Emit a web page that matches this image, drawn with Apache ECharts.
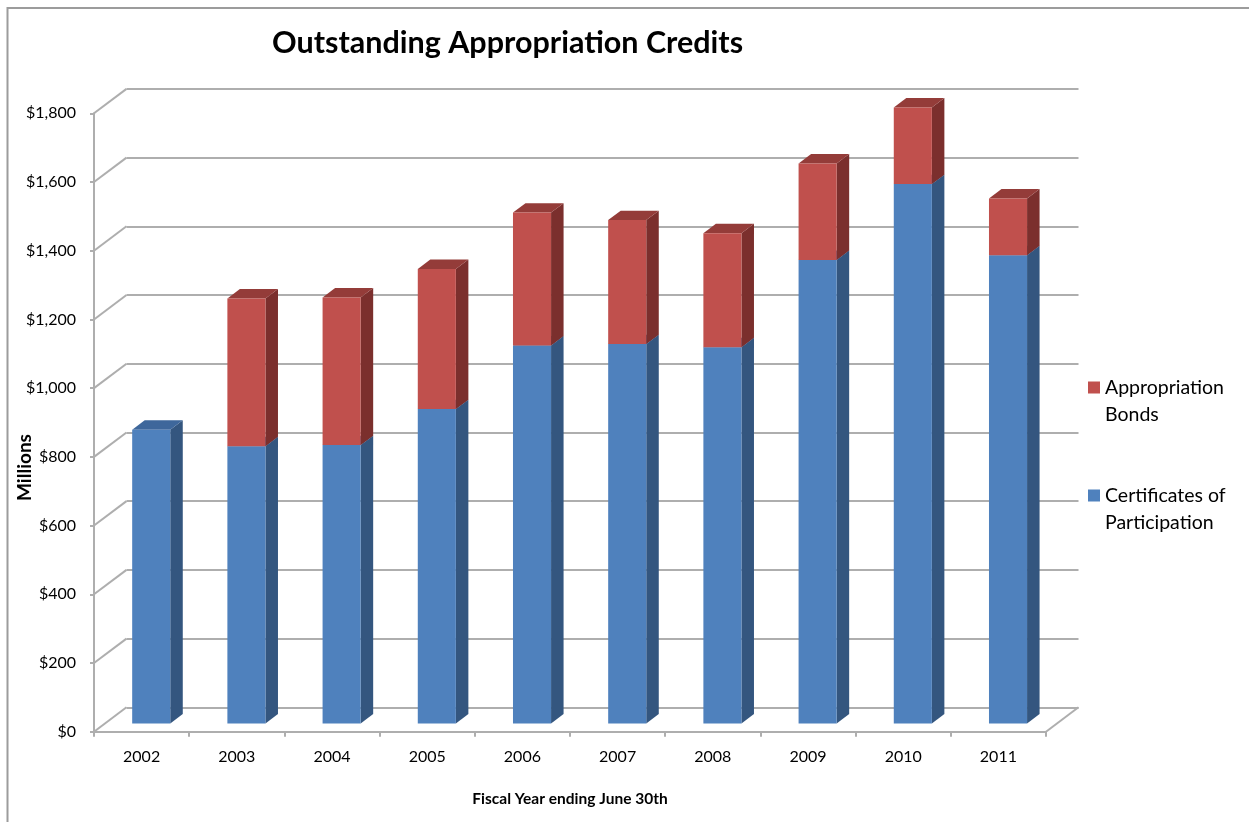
<!DOCTYPE html>
<html>
<head>
<meta charset="utf-8">
<title>Outstanding Appropriation Credits</title>
<script src="https://cdn.jsdelivr.net/npm/echarts@6/dist/echarts.min.js"></script>
<style>
  html, body { margin: 0; padding: 0; background: #ffffff; }
  #chart { width: 1249px; height: 822px; }
</style>
</head>
<body>
<div id="chart"></div>
<script>
// Fiscal years and outstanding amounts (millions of dollars)
const years = ['2002', '2003', '2004', '2005', '2006', '2007', '2008', '2009', '2010', '2011'];
const certificates = [855, 807, 810, 915, 1100, 1104, 1095, 1349, 1570, 1363];
const bonds = [0, 430, 430, 408, 387, 361, 332, 281, 223, 165];
const yTicks = [0, 200, 400, 600, 800, 1000, 1200, 1400, 1600, 1800];

// Oblique depth of the 3-D box (screen pixels) and where bars sit in it
const DX = 32.5, DY = -24.4;
const BAR_FRONT = 0.34, BAR_DEPTH = 0.385;
const BAR_WIDTH = 0.4, BAR_SHIFT = -0.015;

const FONT = 'Lato, "Open Sans", sans-serif';
const GRID_COLOR = '#aeaeae';

const palette = {
  cop: { front: '#4f81bd', side: '#34567f', top: '#3e679b' },
  ab:  { front: '#c0504d', side: '#7b2f2d', top: '#943c39' }
};

function makeBarRenderer(colors) {
  return function (params, api) {
    const cat = api.value(0), lo = api.value(1), hi = api.value(2);
    if (!(hi > lo)) return null;
    const band = api.size([1, 0])[0];
    const base = api.coord([cat, lo]);
    const top = api.coord([cat, hi]);
    const w = band * BAR_WIDTH;
    const x0 = base[0] - w / 2 + band * BAR_SHIFT + DX * BAR_FRONT;
    const yb = base[1] + DY * BAR_FRONT;
    const yt = top[1] + DY * BAR_FRONT;
    const dx = DX * BAR_DEPTH, dy = DY * BAR_DEPTH;
    const x1 = x0 + w;
    return {
      type: 'group',
      children: [
        { type: 'polygon', shape: { points: [[x1, yb], [x1, yt], [x1 + dx, yt + dy], [x1 + dx, yb + dy]] },
          style: { fill: colors.side } },
        { type: 'polygon', shape: { points: [[x0, yt], [x1, yt], [x1 + dx, yt + dy], [x0 + dx, yt + dy]] },
          style: { fill: colors.top } },
        { type: 'rect', shape: { x: x0, y: yt, width: w, height: yb - yt },
          style: { fill: colors.front } }
      ]
    };
  };
}

// Side wall and floor edges joining the front axes to the back wall
function renderWalls(params, api) {
  const v = api.value(1);
  const p = api.coord([0, v]);
  const cs = params.coordSys;
  const children = [{
    type: 'line',
    shape: { x1: cs.x, y1: p[1], x2: cs.x + DX, y2: p[1] + DY },
    style: { stroke: GRID_COLOR, lineWidth: 2 }
  }];
  if (v === 0) {
    children.push({
      type: 'line',
      shape: { x1: cs.x + cs.width, y1: p[1], x2: cs.x + cs.width + DX, y2: p[1] + DY },
      style: { stroke: GRID_COLOR, lineWidth: 2 }
    });
  }
  return { type: 'group', children: children };
}

const copData = years.map((y, i) => [i, 0, certificates[i]]);
const abData = years.map((y, i) => [i, certificates[i], certificates[i] + bonds[i]]);
const wallData = yTicks.map(v => [0, v]);

const FRONT = { left: 94, right: 203, top: 113.3, bottom: 90.3 };
const BACK = { left: FRONT.left + DX, right: FRONT.right - DX, top: FRONT.top + DY, bottom: FRONT.bottom - DY };

const legendLabels = {
  'Appropriation Bonds': '\nAppropriation\nBonds',
  'Certificates of Participation': '\nCertificates of\nParticipation'
};

const chart = echarts.init(document.getElementById('chart'), null, { renderer: 'canvas' });
chart.setOption({
  animation: false,
  backgroundColor: '#ffffff',
  textStyle: { fontFamily: FONT },
  title: {
    text: 'Outstanding Appropriation Credits',
    left: 272, top: 28, padding: 0,
    textStyle: { fontFamily: FONT, fontWeight: 'bold', fontSize: 30.5, color: '#000000' }
  },
  graphic: [{
    type: 'rect', silent: true,
    shape: { x: 7.5, y: 8, width: 1300, height: 900 },
    style: { fill: 'none', stroke: '#9c9c9c', lineWidth: 2 }
  }],
  legend: {
    orient: 'vertical',
    left: 1088, top: 347, padding: 0,
    itemWidth: 12, itemHeight: 12, itemGap: 27,
    icon: 'rect',
    data: ['Appropriation Bonds', 'Certificates of Participation'],
    formatter: name => legendLabels[name],
    textStyle: { fontFamily: FONT, fontSize: 19.5, color: '#000000', lineHeight: 27 }
  },
  grid: [
    { left: FRONT.left, right: FRONT.right, top: FRONT.top, bottom: FRONT.bottom, outerBoundsMode: 'none', containLabel: false },
    { left: BACK.left, right: BACK.right, top: BACK.top, bottom: BACK.bottom, outerBoundsMode: 'none', containLabel: false }
  ],
  xAxis: [{
    type: 'category', gridIndex: 0, data: years, boundaryGap: true,
    name: 'Fiscal Year ending June 30th', nameLocation: 'middle', nameGap: 59,
    nameMoveOverlap: false,
    nameTextStyle: { fontFamily: FONT, fontWeight: 'bold', fontSize: 15.5, color: '#000000' },
    axisLine: { lineStyle: { color: GRID_COLOR, width: 2 } },
    axisTick: { show: true, length: 5, alignWithLabel: false, lineStyle: { color: GRID_COLOR, width: 2 } },
    axisLabel: { fontFamily: FONT, fontSize: 16, color: '#000000', margin: 17 },
    splitLine: { show: false }
  }, {
    type: 'category', gridIndex: 1, data: years, show: false
  }],
  yAxis: [{
    type: 'value', gridIndex: 0, min: 0, max: 1800, interval: 200,
    name: 'Millions', nameLocation: 'middle', nameGap: 60, nameRotate: 90,
    nameMoveOverlap: false,
    nameTextStyle: { fontFamily: FONT, fontWeight: 'bold', fontSize: 19, color: '#000000', padding: [0, 90, 0, 0] },
    axisLine: { show: true, lineStyle: { color: GRID_COLOR, width: 2 } },
    axisTick: { show: true, length: 4, lineStyle: { color: GRID_COLOR, width: 2 } },
    axisLabel: {
      fontFamily: FONT, fontSize: 16, color: '#000000', margin: 18,
      formatter: v => '$' + v.toLocaleString('en-US')
    },
    splitLine: { show: false }
  }, {
    type: 'value', gridIndex: 1, min: 0, max: 1800, interval: 200,
    axisLine: { show: false }, axisTick: { show: false }, axisLabel: { show: false },
    splitLine: { show: true, lineStyle: { color: GRID_COLOR, width: 2 } }
  }],
  series: [{
    type: 'custom', name: 'walls', xAxisIndex: 0, yAxisIndex: 0, silent: true, z: 1,
    renderItem: renderWalls, data: wallData, encode: { x: 0, y: 1 }
  }, {
    type: 'custom', name: 'Certificates of Participation', xAxisIndex: 0, yAxisIndex: 0, z: 3,
    itemStyle: { color: palette.cop.front },
    renderItem: makeBarRenderer(palette.cop), data: copData, encode: { x: 0, y: [1, 2] }
  }, {
    type: 'custom', name: 'Appropriation Bonds', xAxisIndex: 0, yAxisIndex: 0, z: 3,
    itemStyle: { color: palette.ab.front },
    renderItem: makeBarRenderer(palette.ab), data: abData, encode: { x: 0, y: [1, 2] }
  }]
});
</script>
</body>
</html>
